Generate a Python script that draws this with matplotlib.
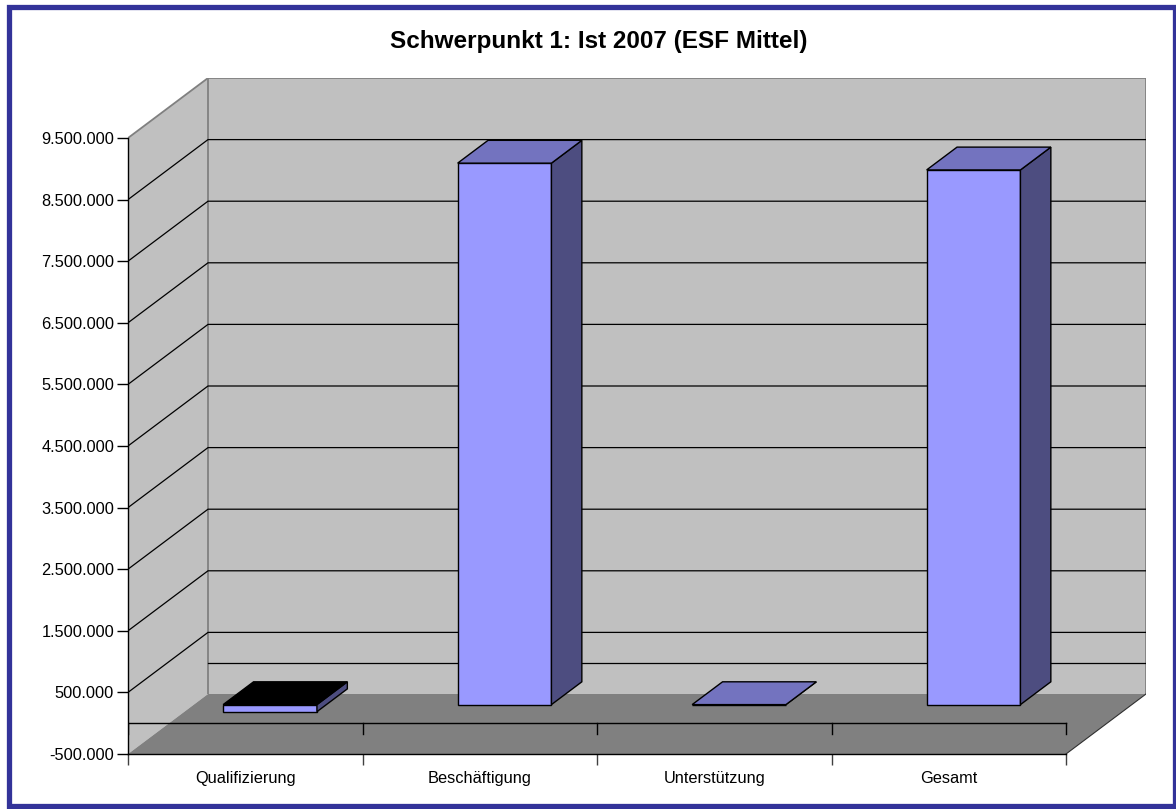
import matplotlib
matplotlib.use("Agg")
import matplotlib.pyplot as plt
from matplotlib.patches import Polygon, Rectangle
from matplotlib.ticker import FixedLocator, FuncFormatter

# ---------------- data ----------------
title = "Schwerpunkt 1: Ist 2007 (ESF Mittel)"
categories = ["Qualifizierung", "Beschäftigung", "Unterstützung", "Gesamt"]
values = [-115000, 8790000, 0, 8680000]
y_ticks = [-500000, 500000, 1500000, 2500000, 3500000, 4500000,
           5500000, 6500000, 7500000, 8500000, 9500000]

# ---------------- geometry / style ----------------
W, H = 1176, 809
PX_CAT = 234.5          # pixels per category
PX_UNIT = 61.6 / 1e6    # pixels per value unit
DX_PX, DY_PX = 80, 60   # depth offset in pixels
DX = DX_PX / PX_CAT
DY = DY_PX / PX_UNIT
YMIN, YMAX = y_ticks[0], y_ticks[-1]
n = len(categories)

C_FRONT = "#9999FF"
C_SIDE = "#4D4D80"
C_TOP = "#7373BF"
C_WALL = "#C0C0C0"
C_FLOOR = "#808080"
C_BORDER = "#333399"

plt.rcParams["font.family"] = ["Liberation Sans", "DejaVu Sans"]

fig = plt.figure(figsize=(W / 100, H / 100), dpi=100)
fig.patch.set_facecolor("white")

left_px, right_px = 128, 128 + n * PX_CAT + DX_PX
bottom_px = 754
top_px = bottom_px - (YMAX - YMIN) * PX_UNIT - DY_PX
ax = fig.add_axes([left_px / W, (H - bottom_px) / H,
                   (right_px - left_px) / W, (bottom_px - top_px) / H])
ax.set_xlim(0, n + DX)
ax.set_ylim(YMIN, YMAX + DY)
ax.patch.set_visible(False)


def P(x, v, d):
    return (x + d * DX, v + d * DY)


def poly(pts, fc, ec="none", lw=1.0, z=1):
    ax.add_patch(Polygon(pts, closed=True, facecolor=fc, edgecolor=ec,
                         linewidth=lw, zorder=z, joinstyle="miter"))


# walls and floor
poly([P(0, YMIN, 0), P(0, YMAX, 0), P(0, YMAX, 1), P(0, YMIN, 1)], C_WALL, z=1)
poly([P(0, YMIN, 1), P(0, YMAX, 1), P(n, YMAX, 1), P(n, YMIN, 1)], C_WALL, z=1)
poly([P(0, YMIN, 0), P(n, YMIN, 0), P(n, YMIN, 1), P(0, YMIN, 1)], C_FLOOR, z=1)

# wall edges (gray)
for a, b in [((0, YMAX, 0), (0, YMAX, 1)), ((0, YMAX, 1), (n, YMAX, 1)),
             ((n, YMAX, 1), (n, YMIN, 1)), ((0, YMAX, 1), (0, YMIN, 1))]:
    pa, pb = P(*a), P(*b)
    ax.plot([pa[0], pb[0]], [pa[1], pb[1]], color="#808080", lw=1.3, zorder=2,
            solid_capstyle="butt")
pa, pb = P(n, YMIN, 0), P(n, YMIN, 1)
ax.plot([pa[0], pb[0]], [pa[1], pb[1]], color="#303030", lw=0.8, zorder=2)

# gridlines
for v in y_ticks[1:-1]:
    pa, pb, pc = P(0, v, 0), P(0, v, 1), P(n, v, 1)
    ax.plot([pa[0], pb[0], pc[0]], [pa[1], pb[1], pc[1]], color="black",
            lw=0.9, zorder=2)
# zero line on back wall
pa, pb = P(0, 0, 1), P(n, 0, 1)
ax.plot([pa[0], pb[0]], [pa[1], pb[1]], color="black", lw=0.9, zorder=2)

# category axis at value 0 (front) with ticks
tick_len = 11 / PX_UNIT
ax.plot([0, n], [0, 0], color="black", lw=1.0, zorder=3)
for i in range(n + 1):
    ax.plot([i, i], [0, -tick_len], color="black", lw=1.0, zorder=3)

# bars
bw = 0.4
d0, d1 = 0.31, 0.69
for i, v in enumerate(values):
    c = i + 0.5 + (d0 + d1) / 2 * 0  # centre in front-axis units
    cx = i + 0.5
    xl, xr = cx - bw / 2, cx + bw / 2
    v0, v1 = min(0, v), max(0, v)
    top_col = "black" if v < 0 else C_TOP
    # front
    poly([P(xl, v0, d0), P(xr, v0, d0), P(xr, v1, d0), P(xl, v1, d0)],
         C_FRONT, "black", 1.0, z=4)
    # side
    poly([P(xr, v0, d0), P(xr, v0, d1), P(xr, v1, d1), P(xr, v1, d0)],
         C_SIDE, "black", 1.0, z=4)
    # top
    poly([P(xl, v1, d0), P(xr, v1, d0), P(xr, v1, d1), P(xl, v1, d1)],
         top_col, "black", 1.0, z=5)

# axes: spines / ticks
for s in ["top", "right"]:
    ax.spines[s].set_visible(False)
ax.spines["left"].set_bounds(YMIN, YMAX)
ax.spines["bottom"].set_bounds(0, n)
ax.spines["left"].set_zorder(6)
ax.spines["bottom"].set_zorder(6)
ax.spines["left"].set_linewidth(1.0)
ax.spines["bottom"].set_linewidth(1.0)

ax.yaxis.set_major_locator(FixedLocator(y_ticks))
ax.yaxis.set_major_formatter(FuncFormatter(
    lambda v, p: f"{v:,.0f}".replace(",", ".")))
ax.tick_params(axis="y", direction="out", length=8, width=1.0, pad=2,
               labelsize=11.8, colors="black")

ax.xaxis.set_major_locator(FixedLocator(range(n + 1)))
ax.xaxis.set_minor_locator(FixedLocator([i + 0.5 for i in range(n)]))
ax.set_xticklabels([], minor=False)
ax.set_xticklabels(categories, minor=True)
ax.tick_params(axis="x", which="major", direction="out", length=8, width=1.0,
               color="#404040")
ax.tick_params(axis="x", which="minor", length=0, pad=12, labelsize=11.8)

# title
fig.text(599 / W, 1 - 48 / H, title, ha="center", va="baseline",
         fontsize=17.5, fontweight="bold")

# border
fig.patches.append(Rectangle((8.5 / W, 3.5 / H), (1174.5 - 8.5) / W,
                             (802.5 - 3.5) / H, transform=fig.transFigure,
                             fill=False, edgecolor=C_BORDER, linewidth=3.8))
fig.patches[-1].set_y(3.5 / H)
fig.patches[-1].set_height((805.5 - 6.5) / H)
fig.patches[-1].set_y((H - 805.5) / H)

fig.savefig("out.png", dpi=100)
